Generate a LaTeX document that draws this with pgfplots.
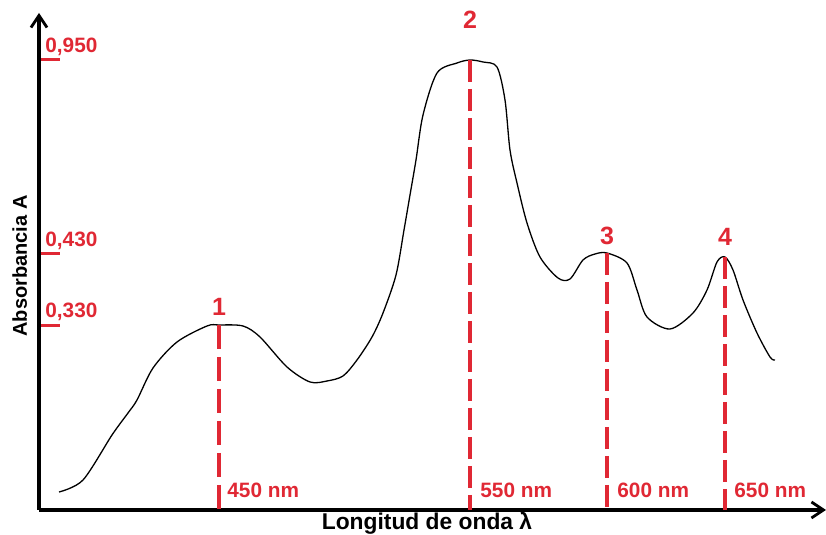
\documentclass[border=0pt]{standalone}
\usepackage{fontspec}
\setmainfont{Liberation Sans}
\usepackage{pgfplots}
\pgfplotsset{compat=1.18}
\usetikzlibrary{arrows.meta}
\definecolor{rojo}{RGB}{224,40,52}

\begin{document}
\begin{tikzpicture}
\begin{axis}[
    scale only axis,
    width=393.5pt, height=248.5pt,
    xmin=39, xmax=826, ymin=0, ymax=497,
    axis lines=left,
    x axis line style={line width=1.6pt, -{Straight Barb[length=6pt,width=8pt,line width=1.4pt]}},
    y axis line style={line width=1.6pt, -{Straight Barb[length=6pt,width=8pt,line width=1.4pt]}},
    xtick=\empty,
    ytick={184,256,450}, yticklabels={,,},
    ytick style={rojo, line width=1.5pt},
    major tick length=10.5pt, tick align=inside,
    clip=false,
]
% espectro (coordenadas)
\addplot[black, line width=0.65pt, smooth, tension=0.5] coordinates {
    (59,18) (83,30) (112,75) (128,97) (137,110) (153,142) (177,168) (207,184)
    (219,185) (243,184) (260,173) (287,143) (310,128) (327,129) (343,134)
    (357,150) (372,173) (383,197) (396,235) (404,280) (410,315) (416,350)
    (423,395) (437,437) (457,447) (470,450) (483,448) (497,443) (505,410)
    (510,360) (517,327) (527,287) (540,253) (558,232) (570,231) (583,250)
    (595,256) (607,257) (627,247) (637,220) (647,193) (670,181) (693,197)
    (707,220) (717,248) (725,253) (733,240) (743,210) (757,177) (770,153) (775,150)
};
% maximos
\addplot[rojo, line width=1.8pt, dash pattern=on 12pt off 4pt] coordinates {(219,185) (219,0)};
\addplot[rojo, line width=1.8pt, dash pattern=on 11pt off 3.5pt] coordinates {(470,450) (470,0)};
\addplot[rojo, line width=1.8pt, dash pattern=on 11pt off 3.5pt] coordinates {(607,257) (607,0)};
\addplot[rojo, line width=1.8pt, dash pattern=on 11pt off 3.5pt] coordinates {(725,253) (725,0)};

\tikzset{lab/.style={rojo, font=\bfseries\fontsize{10.4}{12}\selectfont, inner sep=0pt}}
\node[lab, anchor=base west] at (axis cs:45,457) {0,950};
\node[lab, anchor=base west] at (axis cs:45,263) {0,430};
\node[lab, anchor=base west] at (axis cs:45,192) {0,330};

\tikzset{num/.style={rojo, font=\bfseries\fontsize{12.5}{14}\selectfont, inner sep=0pt, anchor=base}}
\node[num] at (axis cs:219,194) {1};
\node[num] at (axis cs:470,481) {2};
\node[num] at (axis cs:607,265) {3};
\node[num] at (axis cs:725,264) {4};

\node[lab, anchor=base west] at (axis cs:227,12) {450 nm};
\node[lab, anchor=base west] at (axis cs:480,12) {550 nm};
\node[lab, anchor=base west] at (axis cs:617,12) {600 nm};
\node[lab, anchor=base west] at (axis cs:734,12) {650 nm};

\node[font=\bfseries\fontsize{11.4}{13}\selectfont, inner sep=0pt, anchor=base] at (axis cs:427,-20) {Longitud de onda λ};
\node[font=\bfseries\fontsize{10}{12}\selectfont, inner sep=0pt, anchor=base, rotate=90] at (axis cs:27,244) {Absorbancia A};
\end{axis}
\pgfresetboundingbox
\path[use as bounding box] ([shift={(-19.5pt,-12.5pt)}]current axis.south west) rectangle ([shift={(0pt,6.5pt)}]current axis.north east);
\end{tikzpicture}
\end{document}
